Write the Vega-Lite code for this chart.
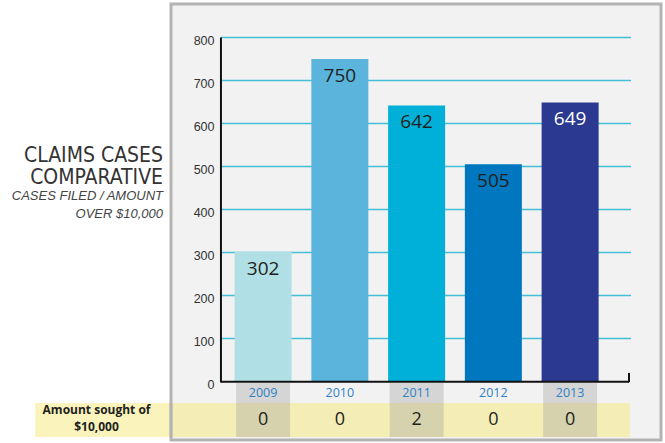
{
  "$schema": "https://vega.github.io/schema/vega-lite/v6.json",
  "width": 490,
  "height": 436,
  "autosize": {"type": "none"},
  "padding": {"left": 171, "top": 4, "right": 4, "bottom": 3},
  "background": "white",
  "config": {
    "view": {"fill": "#f2f2f2", "stroke": "#b3b3b3", "strokeWidth": 3},
    "font": "Liberation Sans",
    "scale": {"continuousPadding": 0},
    "axisY": {"domain": false, "ticks": false, "grid": false, "labelPadding": -43, "labelAlign": "right", "labelFontSize": 12.5, "labelColor": "#333333", "labelFont": "Liberation Sans", "labelOffset": 3, "zindex": 1}
  },
  "data": {
    "values": [
      {"year": 2009, "cases": 302, "sought": 0},
      {"year": 2010, "cases": 750, "sought": 0},
      {"year": 2011, "cases": 642, "sought": 2},
      {"year": 2012, "cases": 505, "sought": 0},
      {"year": 2013, "cases": 649, "sought": 0}
    ]
  },
  "layer": [
    {
      "data": {"values": [{}]},
      "mark": {"type": "rect", "color": "#f5e97a", "opacity": 0.5},
      "encoding": {
        "x": {"datum": 2006.03, "type": "quantitative", "scale": {"domain": [2007.8, 2014.184], "nice": false, "zero": false, "padding": 0}, "axis": null},
        "x2": {"datum": 2013.78},
        "y": {"datum": -50, "type": "quantitative", "title": null, "scale": {"domain": [-136, 877.9], "nice": false, "zero": false, "padding": 0}},
        "y2": {"datum": -129.1}
      }
    },
    {
      "transform": [{"filter": "datum.year % 2 == 1"}],
      "mark": {"type": "bar", "orient": "vertical", "width": 54, "color": "#9a9a9a", "opacity": 0.33},
      "encoding": {
        "x": {"field": "year", "type": "quantitative", "scale": {"domain": [2007.8, 2014.184], "nice": false, "zero": false, "padding": 0}, "axis": null},
        "y": {"datum": -3.5, "type": "quantitative", "title": null, "scale": {"domain": [-136, 877.9], "nice": false, "zero": false, "padding": 0}},
        "y2": {"datum": -129.1}
      }
    },
    {
      "data": {"values": [{"g": 100}, {"g": 200}, {"g": 300}, {"g": 400}, {"g": 500}, {"g": 600}, {"g": 700}, {"g": 800}]},
      "mark": {"type": "rule", "color": "#45bfd8", "strokeWidth": 1.5},
      "encoding": {
        "x": {"datum": 2008.451, "type": "quantitative", "scale": {"domain": [2007.8, 2014.184], "nice": false, "zero": false, "padding": 0}, "axis": null},
        "x2": {"datum": 2013.793},
        "y": {"field": "g", "type": "quantitative", "title": null, "scale": {"domain": [-136, 877.9], "nice": false, "zero": false, "padding": 0}}
      }
    },
    {
      "mark": {"type": "bar", "orient": "vertical", "width": 57},
      "encoding": {
        "x": {"field": "year", "type": "quantitative", "scale": {"domain": [2007.8, 2014.184], "nice": false, "zero": false, "padding": 0}, "axis": null},
        "y": {"field": "cases", "type": "quantitative", "title": null, "scale": {"domain": [-136, 877.9], "nice": false, "zero": false, "padding": 0},
          "axis": {"values": [0, 100, 200, 300, 400, 500, 600, 700, 800], "labelFontSize": 12.5}},
        "y2": {"datum": 0},
        "color": {"field": "year", "type": "ordinal", "scale": {"domain": [2009, 2010, 2011, 2012, 2013], "range": ["#b0dfe5", "#5ab4dc", "#00b0d8", "#0077be", "#2b3990"]}, "legend": null}
      }
    },
    {
      "data": {"values": [{}]},
      "mark": {"type": "rule", "color": "#111111", "strokeWidth": 2},
      "encoding": {
        "x": {"datum": 2008.451, "type": "quantitative", "scale": {"domain": [2007.8, 2014.184], "nice": false, "zero": false, "padding": 0}, "axis": null},
        "y": {"datum": -2, "type": "quantitative", "title": null, "scale": {"domain": [-136, 877.9], "nice": false, "zero": false, "padding": 0}},
        "y2": {"datum": 800}
      }
    },
    {
      "data": {"values": [{}]},
      "mark": {"type": "rule", "color": "#111111", "strokeWidth": 2},
      "encoding": {
        "x": {"datum": 2008.451, "type": "quantitative", "scale": {"domain": [2007.8, 2014.184], "nice": false, "zero": false, "padding": 0}, "axis": null},
        "x2": {"datum": 2013.767},
        "y": {"datum": -0.5, "type": "quantitative", "title": null, "scale": {"domain": [-136, 877.9], "nice": false, "zero": false, "padding": 0}}
      }
    },
    {
      "data": {"values": [{}]},
      "mark": {"type": "rule", "color": "#111111", "strokeWidth": 2},
      "encoding": {
        "x": {"datum": 2013.767, "type": "quantitative", "scale": {"domain": [2007.8, 2014.184], "nice": false, "zero": false, "padding": 0}, "axis": null},
        "y": {"datum": -1.5, "type": "quantitative", "title": null, "scale": {"domain": [-136, 877.9], "nice": false, "zero": false, "padding": 0}},
        "y2": {"datum": 20}
      }
    },
    {
      "data": {"values": [{}]},
      "mark": {"type": "rule", "color": "#b3b3b3", "strokeWidth": 3},
      "encoding": {
        "x": {"datum": 2007.8, "type": "quantitative", "scale": {"domain": [2007.8, 2014.184], "nice": false, "zero": false, "padding": 0}, "axis": null},
        "y": {"datum": -50, "type": "quantitative", "title": null, "scale": {"domain": [-136, 877.9], "nice": false, "zero": false, "padding": 0}},
        "y2": {"datum": -129.1}
      }
    },
    {
      "mark": {"type": "text", "fontSize": 19, "baseline": "middle", "dy": 17, "font": "Open Sans"},
      "encoding": {
        "x": {"field": "year", "type": "quantitative", "scale": {"domain": [2007.8, 2014.184], "nice": false, "zero": false, "padding": 0}, "axis": null},
        "y": {"field": "cases", "type": "quantitative", "title": null, "scale": {"domain": [-136, 877.9], "nice": false, "zero": false, "padding": 0}},
        "text": {"field": "cases", "type": "quantitative"},
        "color": {"condition": {"test": "datum.year == 2013", "value": "#ffffff"}, "value": "#231f20"}
      }
    },
    {
      "mark": {"type": "text", "fontSize": 12.5, "baseline": "middle", "color": "#2f80c4", "font": "Open Sans"},
      "encoding": {
        "x": {"field": "year", "type": "quantitative", "scale": {"domain": [2007.8, 2014.184], "nice": false, "zero": false, "padding": 0}, "axis": null},
        "y": {"datum": -26.7, "type": "quantitative", "title": null, "scale": {"domain": [-136, 877.9], "nice": false, "zero": false, "padding": 0}},
        "text": {"field": "year", "type": "ordinal"}
      }
    },
    {
      "mark": {"type": "text", "fontSize": 18, "baseline": "middle", "color": "#231f20", "font": "Open Sans"},
      "encoding": {
        "x": {"field": "year", "type": "quantitative", "scale": {"domain": [2007.8, 2014.184], "nice": false, "zero": false, "padding": 0}, "axis": null},
        "y": {"datum": -89.5, "type": "quantitative", "title": null, "scale": {"domain": [-136, 877.9], "nice": false, "zero": false, "padding": 0}},
        "text": {"field": "sought", "type": "quantitative"}
      }
    },
    {
      "data": {"values": [{}]},
      "mark": {"type": "text", "fontSize": 12, "fontWeight": "bold", "baseline": "middle", "align": "center", "lineHeight": 17, "color": "#231f20", "font": "Open Sans", "text": ["Amount sought of", "$10,000"]},
      "encoding": {
        "x": {"datum": 2006.83, "type": "quantitative", "scale": {"domain": [2007.8, 2014.184], "nice": false, "zero": false, "padding": 0}, "axis": null},
        "y": {"datum": -66.3, "type": "quantitative", "title": null, "scale": {"domain": [-136, 877.9], "nice": false, "zero": false, "padding": 0}}
      }
    },
    {
      "data": {"values": [{}]},
      "mark": {"type": "text", "fontSize": 21, "baseline": "middle", "align": "right", "lineHeight": 22, "color": "#333333", "font": "DejaVu Sans Condensed, Liberation Sans", "text": ["CLAIMS CASES", "COMPARATIVE"]},
      "encoding": {
        "x": {"datum": 2007.696, "type": "quantitative", "scale": {"domain": [2007.8, 2014.184], "nice": false, "zero": false, "padding": 0}, "axis": null},
        "y": {"datum": 524, "type": "quantitative", "title": null, "scale": {"domain": [-136, 877.9], "nice": false, "zero": false, "padding": 0}}
      }
    },
    {
      "data": {"values": [{}]},
      "mark": {"type": "text", "fontSize": 13, "fontStyle": "italic", "baseline": "middle", "align": "right", "lineHeight": 18, "color": "#444444", "font": "Liberation Sans", "text": ["CASES FILED / AMOUNT", "OVER $10,000"]},
      "encoding": {
        "x": {"datum": 2007.696, "type": "quantitative", "scale": {"domain": [2007.8, 2014.184], "nice": false, "zero": false, "padding": 0}, "axis": null},
        "y": {"datum": 432, "type": "quantitative", "title": null, "scale": {"domain": [-136, 877.9], "nice": false, "zero": false, "padding": 0}}
      }
    }
  ]
}
